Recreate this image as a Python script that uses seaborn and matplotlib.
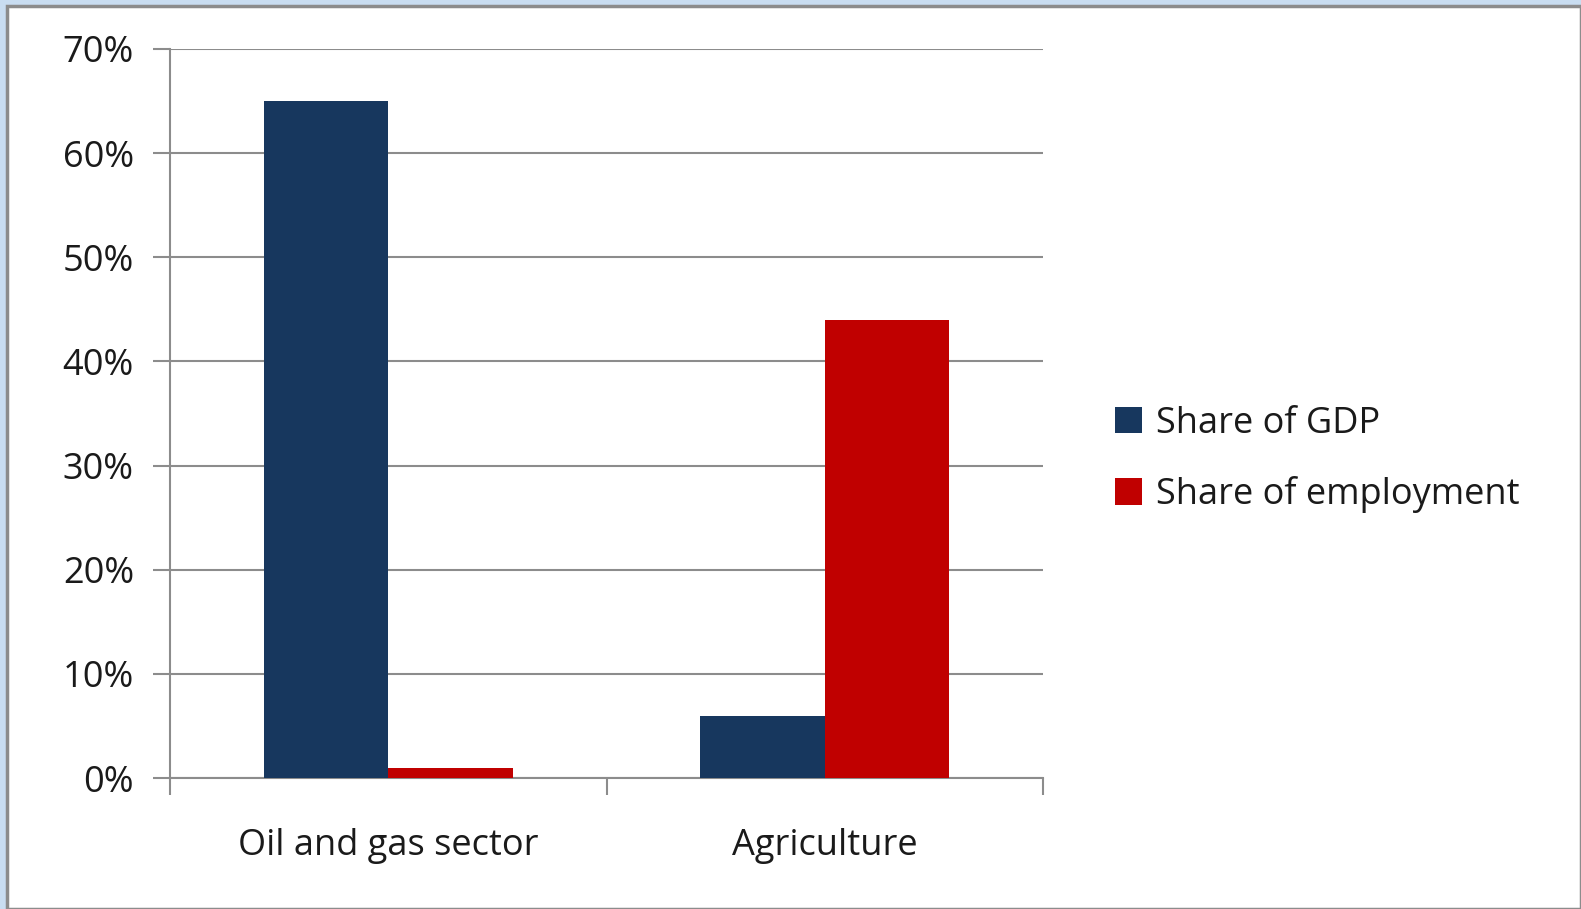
import pandas as pd
import seaborn as sns
import matplotlib.pyplot as plt
import matplotlib.patches as mpatches
from matplotlib.ticker import PercentFormatter

# Data
sectors = ['Oil and gas sector', 'Agriculture']
gdp_share = [65, 6]
employment_share = [1, 44]
series = ['Share of GDP', 'Share of employment']
colors = ['#17375E', '#C00000']

df = pd.DataFrame({
    'sector': sectors * 2,
    'series': [series[0]] * 2 + [series[1]] * 2,
    'value': gdp_share + employment_share,
})

sns.set_style('white')
plt.rcParams['font.family'] = ['Open Sans', 'DejaVu Sans']

fig = plt.figure(figsize=(15.81, 9.09), dpi=100)
fig.patch.set_facecolor('#C9DDF1')
# white panel with grey frame
fig.patches.append(mpatches.Rectangle((7 / 1581, 0), 1 - 7 / 1581, 1 - 6 / 909,
                                      transform=fig.transFigure, facecolor='white',
                                      edgecolor='#8C8C8C', linewidth=2.5, zorder=-5))

ax = fig.add_axes([170 / 1581, 1 - 778 / 909, (1043 - 170) / 1581, (778 - 49) / 909])
ax.set_zorder(2)
ax.set_facecolor('none')

sns.barplot(data=df, x='sector', y='value', hue='series', palette=colors,
            width=0.57, saturation=1, linewidth=0, ax=ax, zorder=3)

ax.set_ylim(0, 70)
ax.set_xlim(-0.5, 1.5)
ax.set_yticks(range(0, 71, 10))
ax.yaxis.set_major_formatter(PercentFormatter(decimals=0))
ax.set_xticks([-0.5, 0.5, 1.5], minor=False)
ax.set_xticklabels(['', '', ''])
ax.set_xticks([0, 1], minor=True)
ax.set_xticklabels(sectors, minor=True)
ax.tick_params(axis='x', which='minor', bottom=True, length=0, pad=36, labelsize=26, labelcolor='#1a1a1a')
ax.tick_params(axis='x', which='major', bottom=True, length=12, width=1.5, color='#8C8C8C', direction='out')
ax.tick_params(axis='y', left=True, length=12, width=1.5, color='#8C8C8C', labelsize=26,
               labelcolor='#1a1a1a', pad=14, direction='out')
ax.grid(axis='y', color='#8C8C8C', linewidth=1.5, zorder=0)
ax.set_axisbelow(True)
for s in ['top', 'right']:
    ax.spines[s].set_visible(False)
for s in ['left', 'bottom']:
    ax.spines[s].set_color('#8C8C8C')
    ax.spines[s].set_linewidth(1.5)
ax.set_xlabel('')
ax.set_ylabel('')

ax.legend(title=None, frameon=False, fontsize=26, loc='center left',
          bbox_to_anchor=(1.045, 0.437), handlelength=0.75, handleheight=0.75,
          handletextpad=0.4, labelspacing=0.95, labelcolor='#1a1a1a')

fig.savefig('out.png', dpi=100, facecolor=fig.get_facecolor())
